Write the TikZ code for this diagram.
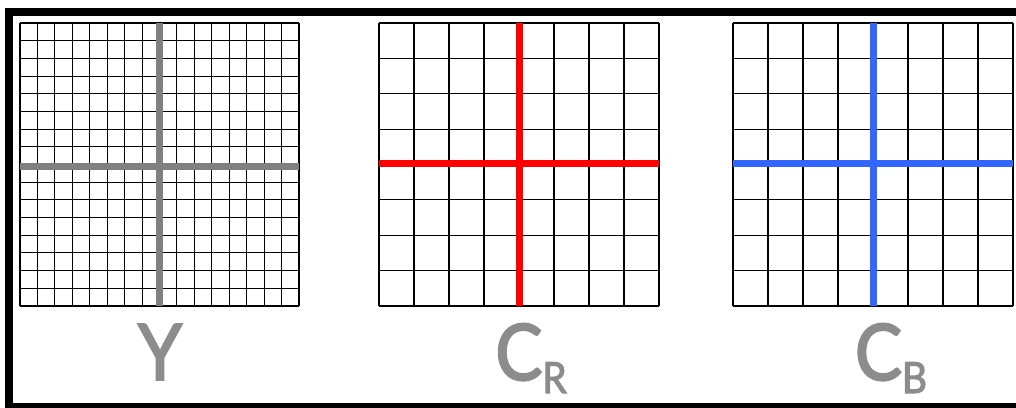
\documentclass[tikz,border=0pt]{standalone}
\usepackage{fontspec}
\setmainfont{Lato}
\newfontfamily\chanfont[FakeBold=2.5,FakeStretch=0.9]{Lato}
\usetikzlibrary{positioning}
\definecolor{axisgray}{RGB}{128,128,128}
\definecolor{labelgray}{RGB}{140,140,140}
\definecolor{cbblue}{RGB}{51,102,255}
\begin{document}
\begin{tikzpicture}[
  x=1pt,y=-1pt,
  cell/.style={draw=black,line width=1.1pt},
  axis/.style={line width=7pt},
  frame/.style={draw=black,line width=8pt},
  chan/.style={text=labelgray,font=\chanfont\fontsize{78}{80}\selectfont,inner sep=0pt,anchor=base}
]
  \useasboundingbox (0,0) rectangle (1016,407);
  \clip (0,0) rectangle (1016,407);
  \draw[frame] (9,12) rectangle (1030,407);
  % luma plane, 16x16 samples
  \foreach \i in {0,...,16} {
    \draw[cell] ({20+\i*279/16},23) -- ({20+\i*279/16},306);
    \draw[cell] (20,{23+\i*283/16}) -- (299,{23+\i*283/16});
  }
  % chroma planes, 8x8 samples
  \foreach \x in {379,733} {
    \foreach \i in {0,...,8} {
      \draw[cell] ({\x+\i*280/8},23) -- ({\x+\i*280/8},306);
      \draw[cell] (\x,{23+\i*283/8}) -- ({\x+280},{23+\i*283/8});
    }
  }
  \draw[axis,axisgray] (159.5,23) -- (159.5,306);
  \draw[axis,axisgray] (20,166) -- (299,166);
  \draw[axis,red] (519.5,23) -- (519.5,306);
  \draw[axis,red] (379,163.5) -- (659,163.5);
  \draw[axis,cbblue] (873,23) -- (873,306);
  \draw[axis,cbblue] (733,163.5) -- (1013,163.5);
  \node[chan] (ylab) at (160,380) {Y};
  \node[chan] (crlab) at (531,380) {C\raisebox{-13pt}{\fontsize{43}{44}\selectfont R}};
  \node[chan] (cblab) at (891,380) {C\raisebox{-13pt}{\fontsize{43}{44}\selectfont B}};
\end{tikzpicture}
\end{document}
